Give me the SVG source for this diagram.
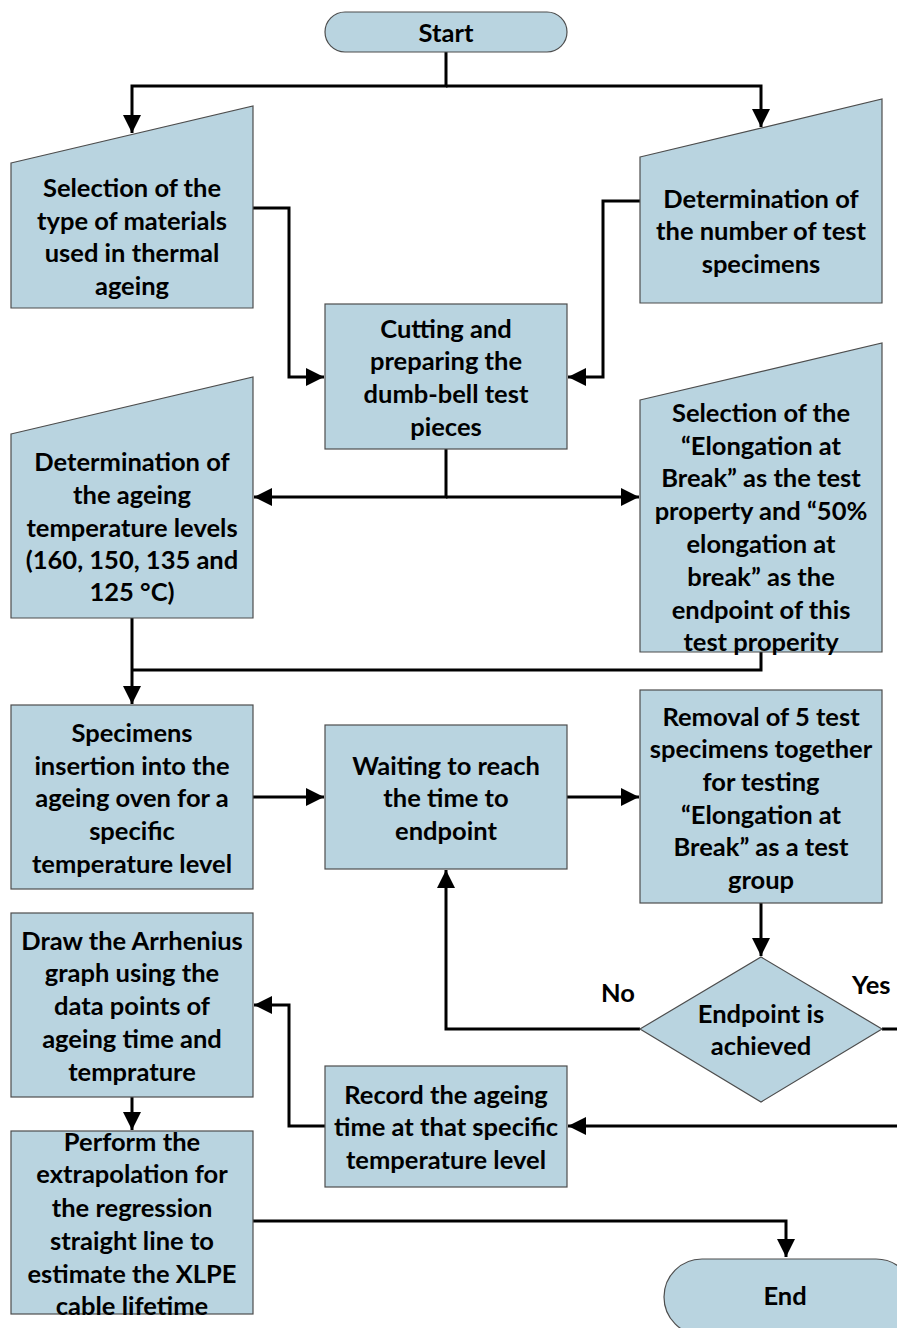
<svg xmlns="http://www.w3.org/2000/svg" width="897" height="1328" viewBox="0 0 897 1328">
<defs>
<style>
.n{fill:#b9d4e0;stroke:#4d4d4d;stroke-width:1.2}
.t{font-family:Lato,"Liberation Sans",sans-serif;font-weight:bold;font-size:25.5px;fill:#000;text-anchor:middle;dominant-baseline:central}
.l{font-family:Lato,"Liberation Sans",sans-serif;font-weight:bold;font-size:25.5px;fill:#000}
.c{fill:none;stroke:#000;stroke-width:3}
</style>
<marker id="a" viewBox="0 0 10 10" refX="10" refY="5" markerWidth="6.5" markerHeight="6" orient="auto" markerUnits="strokeWidth">
<path d="M0,0 L10,5 L0,10 z" fill="#000"/>
</marker>
</defs>
<rect width="897" height="1328" fill="#fff"/>
<g id="connectors">
<path class="c" d="M446,52 V86 H132 V133" marker-end="url(#a)"/>
<path class="c" d="M446,86 H761 V127" marker-end="url(#a)"/>
<path class="c" d="M253,208 H289 V377 H324" marker-end="url(#a)"/>
<path class="c" d="M640,201 H603 V377 H568" marker-end="url(#a)"/>
<path class="c" d="M446,449 V497 H254" marker-end="url(#a)"/>
<path class="c" d="M446,497 H639" marker-end="url(#a)"/>
<path class="c" d="M132,618 V704" marker-end="url(#a)"/>
<path class="c" d="M761,652 V670 H132"/>
<path class="c" d="M253,797 H324" marker-end="url(#a)"/>
<path class="c" d="M567,797 H639" marker-end="url(#a)"/>
<path class="c" d="M761,903 V956" marker-end="url(#a)"/>
<path class="c" d="M640,1029 H446 V870" marker-end="url(#a)"/>
<path class="c" d="M882,1029 H910 V1126 H568" marker-end="url(#a)"/>
<path class="c" d="M325,1126 H289 V1005 H254" marker-end="url(#a)"/>
<path class="c" d="M132,1097 V1130" marker-end="url(#a)"/>
<path class="c" d="M253,1221 H786 V1257" marker-end="url(#a)"/>
<text class="l" x="601" y="1002">No</text>
<text class="l" x="852" y="994">Yes</text>
</g>
<g id="start">
<rect class="n" x="325" y="12" width="242" height="40" rx="20"/>
<text class="t" x="446" y="32">Start</text>
</g>
<g id="select-materials">
<path class="n" d="M11,163 L253,106 V308 H11 Z"/>
<text class="t" x="132" y="187">Selection of the</text>
<text class="t" x="132" y="220">type of materials</text>
<text class="t" x="132" y="252">used in thermal</text>
<text class="t" x="132" y="285">ageing</text>
</g>
<g id="number-specimens">
<path class="n" d="M640,157 L882,99 V303 H640 Z"/>
<text class="t" x="761" y="198">Determination of</text>
<text class="t" x="761" y="230">the number of test</text>
<text class="t" x="761" y="263">specimens</text>
</g>
<g id="cutting">
<rect class="n" x="325" y="304" width="242" height="145"/>
<text class="t" x="446" y="328">Cutting and</text>
<text class="t" x="446" y="360">preparing the</text>
<text class="t" x="446" y="393">dumb-bell test</text>
<text class="t" x="446" y="426">pieces</text>
</g>
<g id="temperature-levels">
<path class="n" d="M11,434 L253,377 V618 H11 Z"/>
<text class="t" x="132" y="461">Determination of</text>
<text class="t" x="132" y="494">the ageing</text>
<text class="t" x="132" y="527">temperature levels</text>
<text class="t" x="132" y="559">(160, 150, 135 and</text>
<text class="t" x="132" y="591">125 °C)</text>
</g>
<g id="test-property">
<path class="n" d="M640,400 L882,343 V652 H640 Z"/>
<text class="t" x="761" y="412">Selection of the</text>
<text class="t" x="761" y="445">“Elongation at</text>
<text class="t" x="761" y="477">Break” as the test</text>
<text class="t" x="761" y="510">property and “50%</text>
<text class="t" x="761" y="543">elongation at</text>
<text class="t" x="761" y="576">break” as the</text>
<text class="t" x="761" y="609">endpoint of this</text>
<text class="t" x="761" y="641">test properity</text>
</g>
<g id="insertion">
<rect class="n" x="11" y="705" width="242" height="184"/>
<text class="t" x="132" y="732">Specimens</text>
<text class="t" x="132" y="765">insertion into the</text>
<text class="t" x="132" y="797">ageing oven for a</text>
<text class="t" x="132" y="830">specific</text>
<text class="t" x="132" y="863">temperature level</text>
</g>
<g id="waiting">
<rect class="n" x="325" y="725" width="242" height="144"/>
<text class="t" x="446" y="765">Waiting to reach</text>
<text class="t" x="446" y="797">the time to</text>
<text class="t" x="446" y="830">endpoint</text>
</g>
<g id="removal">
<rect class="n" x="640" y="690" width="242" height="213"/>
<text class="t" x="761" y="716">Removal of 5 test</text>
<text class="t" x="761" y="748">specimens together</text>
<text class="t" x="761" y="781">for testing</text>
<text class="t" x="761" y="814">“Elongation at</text>
<text class="t" x="761" y="846">Break” as a test</text>
<text class="t" x="761" y="879">group</text>
</g>
<g id="decision">
<path class="n" d="M761,957 L882,1029 L761,1102 L640,1029 Z"/>
<text class="t" x="761" y="1013">Endpoint is</text>
<text class="t" x="761" y="1045">achieved</text>
</g>
<g id="arrhenius">
<rect class="n" x="11" y="913" width="242" height="184"/>
<text class="t" x="132" y="940">Draw the Arrhenius</text>
<text class="t" x="132" y="972">graph using the</text>
<text class="t" x="132" y="1005">data points of</text>
<text class="t" x="132" y="1038">ageing time and</text>
<text class="t" x="132" y="1071">temprature</text>
</g>
<g id="record">
<rect class="n" x="325" y="1066" width="242" height="121"/>
<text class="t" x="446" y="1094">Record the ageing</text>
<text class="t" x="446" y="1126">time at that specific</text>
<text class="t" x="446" y="1159">temperature level</text>
</g>
<g id="extrapolation">
<rect class="n" x="11" y="1131" width="242" height="183"/>
<text class="t" x="132" y="1141">Perform the</text>
<text class="t" x="132" y="1173">extrapolation for</text>
<text class="t" x="132" y="1207">the regression</text>
<text class="t" x="132" y="1240">straight line to</text>
<text class="t" x="132" y="1273">estimate the XLPE</text>
<text class="t" x="132" y="1305">cable lifetime</text>
</g>
<g id="end">
<rect class="n" x="664" y="1259" width="250" height="76" rx="38"/>
<text class="t" x="785" y="1295">End</text>
</g>
</svg>
